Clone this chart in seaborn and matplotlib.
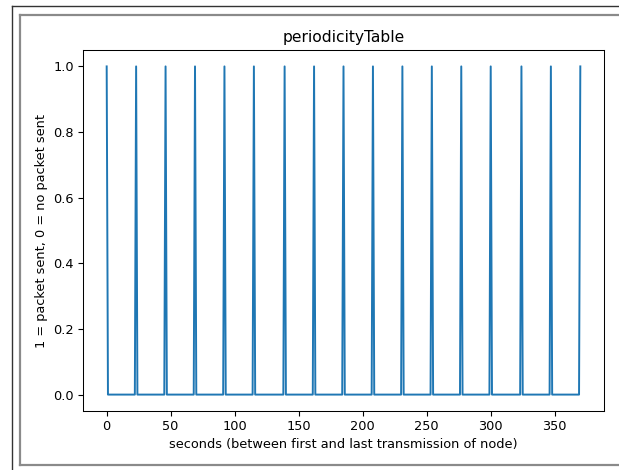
import numpy as np
import pandas as pd
import seaborn as sns
import matplotlib
matplotlib.use("Agg")
import matplotlib.pyplot as plt
from matplotlib.lines import Line2D

# Seconds (relative to the node's first transmission) at which a packet was sent
packet_times = [0, 23, 46, 69, 92, 115, 139, 162, 185, 208, 231, 254, 277, 300, 324, 347, 370]
duration = 370

seconds = np.arange(0, duration + 1)
sent = np.zeros_like(seconds, dtype=float)
sent[packet_times] = 1.0
df = pd.DataFrame({"seconds": seconds, "sent": sent})

W, H = 619, 470
fig = plt.figure(figsize=(W / 100, H / 100), dpi=100)
fig.patch.set_facecolor("white")

# Frame lines around the output cell
def fline(x0, y0, x1, y1, color, lw):
    fig.add_artist(Line2D([x0 / W, x1 / W], [1 - y0 / H, 1 - y1 / H],
                          transform=fig.transFigure, color=color, lw=lw))

fline(11.5, 5.5, 11.5, 470, "#333333", 1.0)
fline(11.5, 5.5, 619, 5.5, "#333333", 1.0)
fline(20, 15, 20, 465, "#8a8a8a", 1.6)
fline(20, 15, 619, 15, "#8a8a8a", 1.6)
fline(20, 465, 619, 465, "#8a8a8a", 1.6)

ax = fig.add_axes([83 / W, (H - 411) / H, (604 - 83) / W, (411 - 50) / H])
sns.lineplot(data=df, x="seconds", y="sent", ax=ax, color="#1f77b4", linewidth=1.4)

ax.set_title("periodicityTable", fontsize=11.2, pad=5.5)
ax.set_xlabel("seconds (between first and last transmission of node)", fontsize=9.3, labelpad=3.5)
ax.set_ylabel("1 = packet sent, 0 = no packet sent", fontsize=9.3, labelpad=3.5)
ax.set_xticks([0, 50, 100, 150, 200, 250, 300, 350])
ax.set_yticks([0.0, 0.2, 0.4, 0.6, 0.8, 1.0])
ax.tick_params(labelsize=9.3, length=3.3, pad=3.2)
for s in ax.spines.values():
    s.set_linewidth(0.75)

fig.savefig("out.png", dpi=100)
